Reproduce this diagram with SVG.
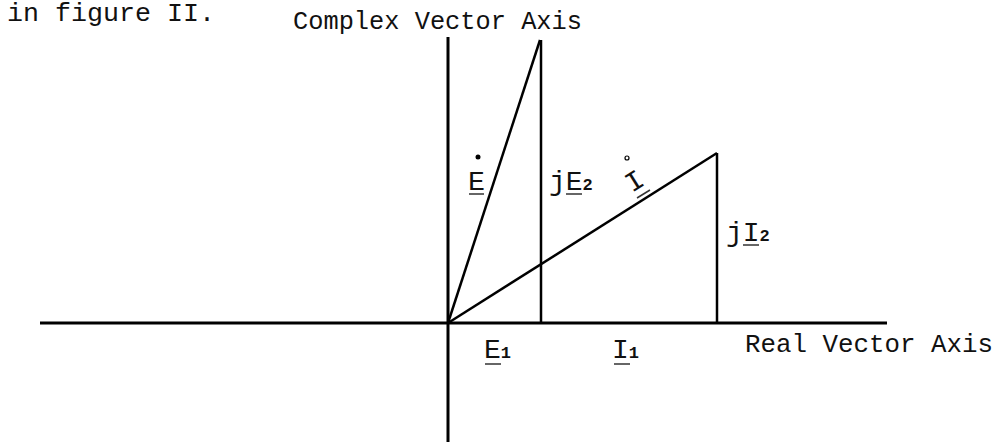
<svg xmlns="http://www.w3.org/2000/svg" width="999" height="442" viewBox="0 0 999 442">
<style>
.t{font-family:"Liberation Mono","DejaVu Sans Mono",monospace;font-size:26px;fill:#111}
.l{font-size:28px}
.s{font-size:17px;font-weight:bold}
.ax{stroke:#000;stroke-width:3;fill:none;stroke-linecap:butt}
.v{stroke:#000;stroke-width:2.5;fill:none}
.ul{stroke:#333;stroke-width:1.5;fill:none}
</style>
<rect width="999" height="442" fill="#fff"/>
<text class="t" x="7" y="21" font-size="24" textLength="208" lengthAdjust="spacingAndGlyphs">in figure II.</text>
<g id="connectors">
  <line class="ax" x1="448" y1="37" x2="448" y2="442" stroke-width="3.5"/>
  <line class="ax" x1="40" y1="323" x2="887" y2="323" stroke-width="2.5"/>
  <line class="v" x1="448" y1="323" x2="540" y2="40" stroke-width="3"/>
  <line class="v" x1="541" y1="40" x2="541" y2="323" stroke-width="3"/>
  <line class="v" x1="448" y1="323" x2="717" y2="153"/>
  <line class="v" x1="717" y1="153" x2="717" y2="323"/>
</g>
<g id="complex-axis-label">
  <text class="t" x="293" y="29" textLength="289" lengthAdjust="spacingAndGlyphs">Complex Vector Axis</text>
</g>
<g id="real-axis-label">
  <text class="t" x="745" y="352" textLength="248" lengthAdjust="spacingAndGlyphs">Real Vector Axis</text>
</g>
<g id="E">
  <circle cx="478" cy="157" r="2.5" fill="#000"/>
  <text class="t l" x="468" y="190" textLength="17" lengthAdjust="spacingAndGlyphs">E</text>
  <line class="ul" x1="469" y1="194" x2="484" y2="194"/>
</g>
<g id="jE2">
  <text class="t l" x="549" y="190">jE<tspan class="s">2</tspan></text>
  <line class="ul" x1="566" y1="194" x2="582" y2="194"/>
</g>
<g id="I">
  <circle cx="627" cy="158" r="2" fill="none" stroke="#000" stroke-width="1.2"/>
  <text class="t l" x="0" y="0" transform="translate(632,193) rotate(-32)">I</text>
  <line class="ul" x1="637" y1="198" x2="650" y2="190"/>
</g>
<g id="jI2">
  <text class="t l" x="726" y="241">jI<tspan class="s">2</tspan></text>
  <line class="ul" x1="743" y1="245" x2="759" y2="245"/>
</g>
<g id="E1">
  <text class="t l" x="484" y="358">E<tspan class="s">1</tspan></text>
  <line class="ul" x1="485" y1="364" x2="501" y2="364"/>
</g>
<g id="I1">
  <text class="t l" x="612" y="358">I<tspan class="s">1</tspan></text>
  <line class="ul" x1="614" y1="364" x2="630" y2="364"/>
</g>
</svg>
